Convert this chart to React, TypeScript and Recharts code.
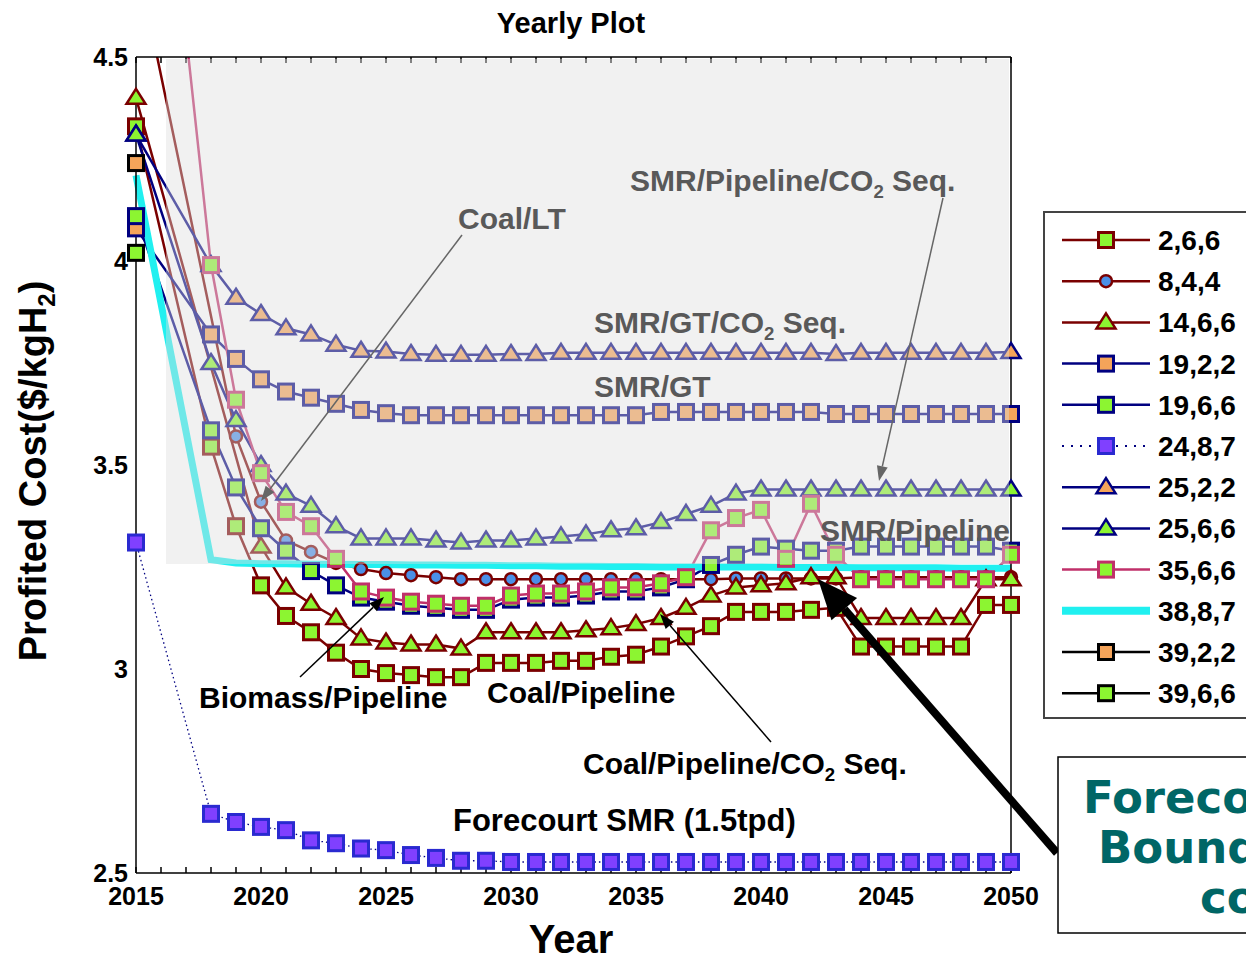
import React from "react";
import { LineChart, Line, XAxis, YAxis } from "recharts";

// years on the x axis (2016 and 2017 carry no points)
const years = [
  2015, 2016, 2017, 2018, 2019, 2020, 2021, 2022, 2023, 2024, 2025, 2026,
  2027, 2028, 2029, 2030, 2031, 2032, 2033, 2034, 2035, 2036, 2037, 2038,
  2039, 2040, 2041, 2042, 2043, 2044, 2045, 2046, 2047, 2048, 2049, 2050,
];

const s2_6_6 = [
  4.33, null, null, 3.545, 3.35, 3.205, 3.13, 3.09, 3.04, 3.0, 2.99, 2.985,
  2.98, 2.98, 3.015, 3.015, 3.015, 3.02, 3.02, 3.03, 3.035, 3.055, 3.08, 3.105,
  3.14, 3.14, 3.14, 3.145, 3.15, 3.055, 3.055, 3.055, 3.055, 3.055, 3.157, 3.157,
];
const s8_4_4 = [
  4.75, null, null, null, 3.57, 3.41, 3.315, 3.287, 3.26, 3.245, 3.235, 3.23,
  3.225, 3.22, 3.22, 3.22, 3.22, 3.22, 3.22, 3.22, 3.22, 3.22, 3.22, 3.22,
  3.222, 3.222, 3.222, 3.222, 3.222, 3.225, 3.225, 3.225, 3.225, 3.225, 3.225, 3.225,
];
const s14_6_6 = [
  4.4, null, null, null, null, 3.3, 3.2, 3.16, 3.125, 3.075, 3.065, 3.06,
  3.06, 3.05, 3.09, 3.09, 3.09, 3.09, 3.095, 3.1, 3.11, 3.125, 3.15, 3.18,
  3.2, 3.205, 3.21, 3.225, 3.225, 3.125, 3.125, 3.125, 3.125, 3.125, 3.22, 3.22,
];
const s19_2_2 = [
  4.08, null, null, 3.82, 3.76, 3.71, 3.68, 3.665, 3.65, 3.635, 3.627, 3.622,
  3.622, 3.622, 3.622, 3.622, 3.622, 3.622, 3.622, 3.622, 3.622, 3.63, 3.63, 3.63,
  3.63, 3.63, 3.63, 3.63, 3.625, 3.625, 3.625, 3.625, 3.625, 3.625, 3.625, 3.625,
];
const s19_6_6 = [
  4.11, null, null, 3.585, 3.445, 3.345, 3.29, 3.24, 3.205, 3.175, 3.165, 3.155,
  3.15, 3.145, 3.145, 3.17, 3.175, 3.175, 3.18, 3.19, 3.19, 3.2, 3.22, 3.255,
  3.28, 3.3, 3.295, 3.29, 3.29, 3.3, 3.3, 3.3, 3.3, 3.3, 3.3, 3.29,
];
const s24_8_7 = [
  3.31, null, null, 2.645, 2.625, 2.613, 2.605, 2.58, 2.573, 2.56, 2.556, 2.544,
  2.537, 2.53, 2.53, 2.527, 2.527, 2.527, 2.527, 2.527, 2.527, 2.527, 2.527, 2.527,
  2.527, 2.527, 2.527, 2.527, 2.527, 2.527, 2.527, 2.527, 2.527, 2.527, 2.527, 2.527,
];
const s25_2_2 = [
  4.31, null, null, 3.99, 3.91, 3.87, 3.835, 3.82, 3.795, 3.78, 3.778, 3.772,
  3.77, 3.77, 3.77, 3.772, 3.772, 3.775, 3.775, 3.775, 3.775, 3.775, 3.775, 3.775,
  3.775, 3.775, 3.775, 3.775, 3.772, 3.775, 3.775, 3.775, 3.775, 3.775, 3.775, 3.777,
];
const s25_6_6 = [
  4.31, null, null, 3.75, 3.61, 3.5, 3.43, 3.4, 3.35, 3.32, 3.32, 3.32,
  3.315, 3.31, 3.315, 3.315, 3.32, 3.325, 3.33, 3.34, 3.345, 3.36, 3.38, 3.4,
  3.43, 3.44, 3.44, 3.44, 3.44, 3.44, 3.44, 3.44, 3.44, 3.44, 3.44, 3.44,
];
const s35_6_6 = [
  5.69, null, null, 3.99, 3.66, 3.48, 3.385, 3.35, 3.27, 3.19, 3.175, 3.165,
  3.16, 3.155, 3.155, 3.18, 3.185, 3.185, 3.19, 3.2, 3.2, 3.21, 3.225, 3.34,
  3.37, 3.39, 3.27, 3.405, 3.28, 3.22, 3.22, 3.22, 3.22, 3.22, 3.22, 3.28,
];
const s38_8_7 = [
  4.21, null, null, 3.268, 3.26, 3.258, 3.258, 3.257, 3.257, 3.256, 3.256, 3.255,
  3.255, 3.254, 3.254, 3.253, 3.253, 3.252, 3.252, 3.251, 3.251, 3.25, 3.25, 3.25,
  3.25, 3.25, 3.249, 3.249, 3.249, 3.248, 3.248, 3.248, 3.248, 3.247, 3.247, 3.247,
];
const s39_2_2 = [4.24];
const s39_6_6 = [4.02];

const xLabelTicks = [2015, 2020, 2025, 2030, 2035, 2040, 2045, 2050];
const yLabelTicks = [2.5, 3, 3.5, 4, 4.5];
const yMinorTicks = Array.from({ length: 41 }, (_, i) => 2.5 + i * 0.05);

const rows = years.map((year, i) => ({
  year,
  s2_6_6: s2_6_6[i] ?? null,
  s8_4_4: s8_4_4[i] ?? null,
  s14_6_6: s14_6_6[i] ?? null,
  s19_2_2: s19_2_2[i] ?? null,
  s19_6_6: s19_6_6[i] ?? null,
  s24_8_7: s24_8_7[i] ?? null,
  s25_2_2: s25_2_2[i] ?? null,
  s25_6_6: s25_6_6[i] ?? null,
  s35_6_6: s35_6_6[i] ?? null,
  s38_8_7: s38_8_7[i] ?? null,
  s39_2_2: s39_2_2[i] ?? null,
  s39_6_6: s39_6_6[i] ?? null,
}));

const DARKRED = "#7a0000";
const NAVY = "#000080";
const PINK = "#c0306a";
const CYAN = "#20f0f0";
const GREEN = "#8cf531";
const ORANGE = "#f5a45a";
const SKY = "#4a90e8";
const PURPLE = "#8040ff";

type Kind = "square" | "circle" | "triangle" | "none";
type S = {
  key: string;
  name: string;
  color: string;
  kind: Kind;
  fill: string;
  width?: number;
  dash?: string;
  border?: string;
  clip?: boolean;
};

// draw order (cyan drawn late so it hides what sits under it)
const series: S[] = [
  { key: "s39_2_2", name: "39,2,2", color: "#000", kind: "square", fill: ORANGE },
  { key: "s39_6_6", name: "39,6,6", color: "#000", kind: "square", fill: GREEN },
  { key: "s8_4_4", name: "8,4,4", color: DARKRED, kind: "circle", fill: SKY, clip: true },
  { key: "s2_6_6", name: "2,6,6", color: DARKRED, kind: "square", fill: GREEN },
  { key: "s14_6_6", name: "14,6,6", color: DARKRED, kind: "triangle", fill: GREEN },
  { key: "s19_2_2", name: "19,2,2", color: NAVY, kind: "square", fill: ORANGE },
  { key: "s19_6_6", name: "19,6,6", color: NAVY, kind: "square", fill: GREEN },
  { key: "s24_8_7", name: "24,8,7", color: NAVY, kind: "square", fill: PURPLE, width: 1.3, dash: "1.5 3", border: "#2a2ad0" },
  { key: "s25_2_2", name: "25,2,2", color: NAVY, kind: "triangle", fill: ORANGE },
  { key: "s25_6_6", name: "25,6,6", color: NAVY, kind: "triangle", fill: GREEN },
  { key: "s35_6_6", name: "35,6,6", color: PINK, kind: "square", fill: GREEN, clip: true },
  { key: "s38_8_7", name: "38,8,7", color: CYAN, kind: "none", fill: CYAN, width: 7 },
];

const legendOrder = [
  "s2_6_6", "s8_4_4", "s14_6_6", "s19_2_2", "s19_6_6", "s24_8_7",
  "s25_2_2", "s25_6_6", "s35_6_6", "s38_8_7", "s39_2_2", "s39_6_6",
];

const FONT = "'Liberation Sans', Arial, sans-serif";

function Marker({ kind, cx, cy, stroke, fill }: { kind: Kind; cx: number; cy: number; stroke: string; fill: string }) {
  if (kind === "square")
    return <rect x={cx - 7.5} y={cy - 7.5} width={15} height={15} fill={fill} stroke={stroke} strokeWidth={3} />;
  if (kind === "circle") return <circle cx={cx} cy={cy} r={6} fill={fill} stroke={stroke} strokeWidth={2.5} />;
  if (kind === "triangle")
    return (
      <polygon
        points={`${cx},${cy - 9} ${cx + 9.5},${cy + 6} ${cx - 9.5},${cy + 6}`}
        fill={fill}
        stroke={stroke}
        strokeWidth={2.5}
        strokeLinejoin="miter"
      />
    );
  return null;
}

const makeDot = (s: S) => (p: any) => {
  const k = `${s.key}-${p.index}`;
  if (s.kind === "none" || p.value == null || p.cx == null || p.cy == null) return <g key={k} />;
  return <Marker key={k} kind={s.kind} cx={p.cx} cy={p.cy} stroke={s.border ?? s.color} fill={s.fill} />;
};

function Arrow({ x1, y1, x2, y2, w, len, half, color }: any) {
  const dx = x2 - x1;
  const dy = y2 - y1;
  const d = Math.hypot(dx, dy);
  const ux = dx / d;
  const uy = dy / d;
  const bx = x2 - ux * len;
  const by = y2 - uy * len;
  const px = -uy * half;
  const py = ux * half;
  return (
    <g>
      <line x1={x1} y1={y1} x2={bx} y2={by} stroke={color} strokeWidth={w} />
      <polygon points={`${x2},${y2} ${bx + px},${by + py} ${bx - px},${by - py}`} fill={color} />
    </g>
  );
}

function Label({ x, y, text, sub, tail, color, size = 30 }: any) {
  return (
    <text x={x} y={y} fill={color} fontSize={size} fontWeight={700} fontFamily={FONT}>
      {text}
      {sub && (
        <tspan fontSize={size * 0.62} dy={size * 0.22}>
          {sub}
        </tspan>
      )}
      {tail && <tspan dy={sub ? -size * 0.22 : 0}>{tail}</tspan>}
    </text>
  );
}

function Overlay() {
  const gray = "#595959";
  const legendTop = 240;
  const step = 41.2;
  return (
    <svg width={1246} height={961} style={{ position: "absolute", left: 0, top: 0, pointerEvents: "none" }}>
      {/* light veil over the upper part of the plot */}
      <rect x={166} y={59} width={843} height={505} fill="#dedede" fillOpacity={0.42} />

      <text x={571} y={33} textAnchor="middle" fontSize={29} fontWeight={700} fontFamily={FONT}>
        Yearly Plot
      </text>
      <text x={571} y={953} textAnchor="middle" fontSize={40} fontWeight={700} fontFamily={FONT}>
        Year
      </text>
      <text
        transform="translate(46,471) rotate(-90)"
        textAnchor="middle"
        fontSize={38}
        fontWeight={700}
        fontFamily={FONT}
      >
        Profited Cost($/kgH
        <tspan fontSize={24} dy={9}>2</tspan>
        <tspan dy={-9}>)</tspan>
      </text>

      {/* annotations */}
      <Label x={458} y={229} text="Coal/LT" color={gray} />
      <Label x={630} y={191} text="SMR/Pipeline/CO" sub="2" tail=" Seq." color={gray} />
      <Label x={594} y={333} text="SMR/GT/CO" sub="2" tail=" Seq." color={gray} />
      <Label x={594} y={397} text="SMR/GT" color={gray} />
      <Label x={820} y={541} text="SMR/Pipeline" color={gray} />
      <Label x={199} y={708} text="Biomass/Pipeline" color="#000" />
      <Label x={487} y={703} text="Coal/Pipeline" color="#000" />
      <Label x={583} y={774} text="Coal/Pipeline/CO" sub="2" tail=" Seq." color="#000" />
      <Label x={453} y={831} text="Forecourt SMR (1.5tpd)" color="#000" size={31} />

      <Arrow x1={462} y1={235} x2={261} y2={501} w={1.5} len={15} half={5.5} color="#666" />
      <Arrow x1={943} y1={198} x2={879} y2={481} w={1.5} len={15} half={5.5} color="#666" />
      <Arrow x1={300} y1={677} x2={384} y2={597} w={1.5} len={15} half={5.5} color="#000" />
      <Arrow x1={771} y1={742} x2={660} y2={614} w={1.5} len={15} half={5.5} color="#000" />
      <Arrow x1={1057} y1={853} x2={818} y2={579} w={8} len={40} half={17} color="#000" />

      {/* legend */}
      <rect x={1044} y={212} width={220} height={506} fill="#fff" stroke="#444" strokeWidth={2} />
      {legendOrder.map((k, i) => {
        const s = series.find((q) => q.key === k)!;
        const y = legendTop + i * step;
        return (
          <g key={k}>
            <line
              x1={1062}
              x2={1150}
              y1={y}
              y2={y}
              stroke={s.color}
              strokeWidth={s.kind === "none" ? 8 : s.dash ? 2 : 2.5}
              strokeDasharray={s.dash ? "2 7" : undefined}
            />
            <Marker kind={s.kind} cx={1106} cy={y} stroke={s.border ?? s.color} fill={s.fill} />
            <text x={1158} y={y + 10} fontSize={28} fontWeight={700} fontFamily={FONT}>
              {s.name}
            </text>
          </g>
        );
      })}

      {/* forecourt boundary box */}
      <rect x={1058} y={757} width={220} height={176} fill="#fff" stroke="#000" strokeWidth={1.5} />
      <g fill="#006666" fontSize={45} fontWeight={700} fontFamily="'DejaVu Sans', Verdana, sans-serif">
        <text x={1083} y={813}>Forecourt</text>
        <text x={1098} y={863}>Boundary</text>
        <text x={1200} y={913}>cost</text>
      </g>
    </svg>
  );
}

export default function App() {
  const tickFont = { fill: "#000", fontSize: 25, fontWeight: 700, fontFamily: FONT };
  const blank = () => "";
  const frame = { stroke: "#000", strokeWidth: 1.5 };
  return (
    <div
      style={{
        position: "fixed",
        left: 0,
        top: 0,
        width: 1246,
        height: 961,
        overflow: "hidden",
        background: "#fff",
      }}
    >
      <LineChart width={1246} height={961} data={rows} margin={{ top: 57, right: 235, bottom: 38, left: 76 }}>
        <XAxis
          xAxisId="x"
          dataKey="year"
          type="number"
          domain={[2015, 2050]}
          ticks={xLabelTicks}
          height={50}
          tickSize={0}
          tickMargin={14}
          tick={tickFont}
          axisLine={frame}
          tickLine={false}
        />
        <XAxis
          xAxisId="xb"
          dataKey="year"
          type="number"
          domain={[2015, 2050]}
          ticks={years}
          mirror
          height={20}
          tickSize={6}
          tickFormatter={blank}
          axisLine={false}
          tickLine={frame}
        />
        <XAxis
          xAxisId="xt"
          orientation="top"
          dataKey="year"
          type="number"
          domain={[2015, 2050]}
          ticks={years}
          mirror
          height={20}
          tickSize={6}
          tickFormatter={blank}
          axisLine={frame}
          tickLine={frame}
        />
        <YAxis
          yAxisId="y"
          type="number"
          domain={[2.5, 4.5]}
          ticks={yLabelTicks}
          width={60}
          tickSize={0}
          tickMargin={8}
          tick={tickFont}
          tickFormatter={(v: number) => String(v)}
          axisLine={frame}
          tickLine={false}
        />
        <YAxis
          yAxisId="yl"
          type="number"
          domain={[2.5, 4.5]}
          ticks={yMinorTicks}
          mirror
          width={20}
          tickSize={6}
          tickFormatter={blank}
          axisLine={false}
          tickLine={frame}
        />
        <YAxis
          yAxisId="yr"
          orientation="right"
          type="number"
          domain={[2.5, 4.5]}
          ticks={yMinorTicks}
          mirror
          width={20}
          tickSize={6}
          tickFormatter={blank}
          axisLine={frame}
          tickLine={frame}
        />
        <YAxis yAxisId="yc" type="number" domain={[2.5, 4.5]} allowDataOverflow hide />
        {series.map((s) => (
          <Line
            key={s.key}
            xAxisId="x"
            yAxisId={s.clip ? "yc" : "y"}
            dataKey={s.key}
            name={s.name}
            type="linear"
            stroke={s.color}
            strokeWidth={s.width ?? 2.5}
            strokeDasharray={s.dash}
            connectNulls
            dot={makeDot(s)}
            activeDot={false}
            isAnimationActive={false}
          />
        ))}
      </LineChart>
      <Overlay />
    </div>
  );
}
